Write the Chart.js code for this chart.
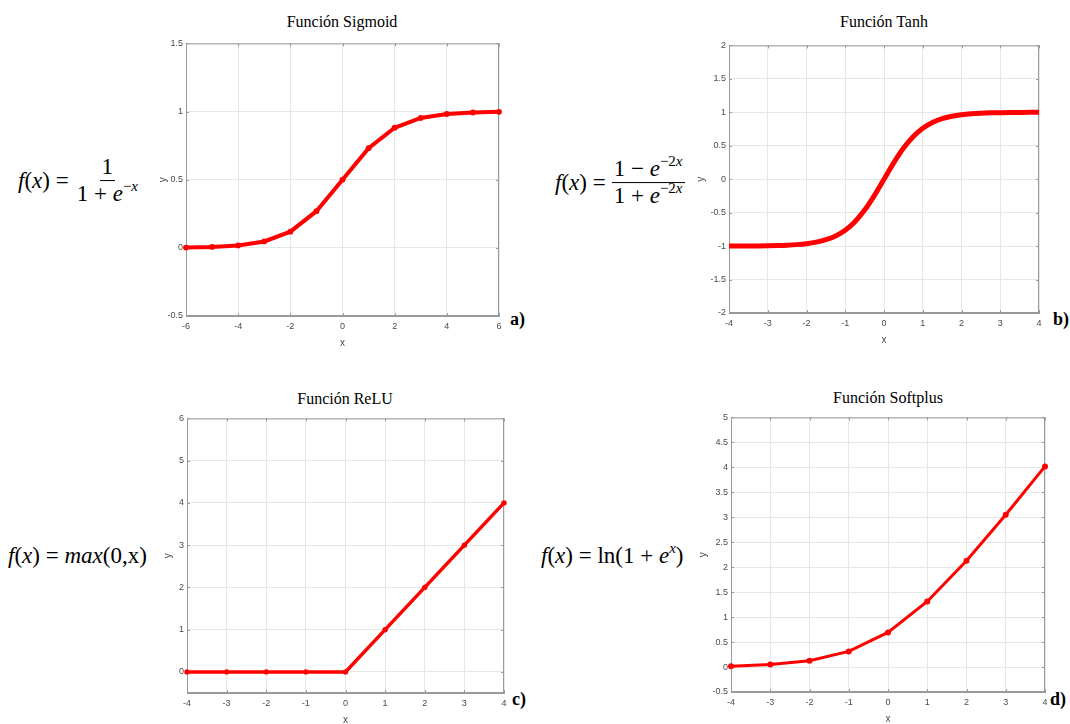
<!DOCTYPE html>
<html>
<head>
<meta charset="utf-8">
<script src="https://cdn.jsdelivr.net/npm/chart.js@4.4.0/dist/chart.umd.min.js"></script>
<style>
body{margin:0;width:1070px;height:724px;overflow:hidden;background:#fff;position:relative;font-family:'Liberation Serif',serif;color:#000}
canvas{position:absolute}
.ttl{position:absolute;font-size:16px;transform:translate(-50%,-50%);white-space:nowrap}
.tag{position:absolute;font-weight:bold;font-size:18px;transform:translateY(-50%)}
.fx{position:absolute;font-size:23px;white-space:nowrap;transform:translateY(-50%);display:flex;align-items:center}
.fx i{font-style:italic}
.frac{display:inline-flex;flex-direction:column;align-items:center;margin-left:6px}
.frac span{padding:0 2px;line-height:1.15}
.frac .num{border-bottom:1.3px solid #000}
sup{font-size:15px;line-height:0;vertical-align:10px}
</style>
</head>
<body>
<div class="fx" style="left:18px;top:181px"><span><i>f</i>(<i>x</i>) =</span><span class="frac"><span class="num">1</span><span>1 + <i>e</i><sup>−<i>x</i></sup></span></span></div>
<div class="fx" style="left:555px;top:183px"><span><i>f</i>(<i>x</i>) =</span><span class="frac"><span class="num">1 − <i>e</i><sup>−2<i>x</i></sup></span><span>1 + <i>e</i><sup>−2<i>x</i></sup></span></span></div>
<div class="fx" style="left:8px;top:556px"><span><i>f</i>(<i>x</i>) = <i>max</i>(0,x)</span></div>
<div class="fx" style="left:541px;top:556px"><span><i>f</i>(<i>x</i>) = ln(1 + <i>e</i><sup><i>x</i></sup>)</span></div>

<div class="ttl" style="left:342px;top:22px">Función Sigmoid</div>
<div class="ttl" style="left:884px;top:22px">Función Tanh</div>
<div class="ttl" style="left:345px;top:399px">Función ReLU</div>
<div class="ttl" style="left:888px;top:398px">Función Softplus</div>

<div class="tag" style="left:510px;top:319px">a)</div>
<div class="tag" style="left:1053px;top:319px">b)</div>
<div class="tag" style="left:512px;top:699px">c)</div>
<div class="tag" style="left:1050px;top:699px">d)</div>

<canvas id="cA"></canvas>
<canvas id="cB"></canvas>
<canvas id="cC"></canvas>
<canvas id="cD"></canvas>

<script>
// values
const sigmoidX = [-6, -5, -4, -3, -2, -1, 0, 1, 2, 3, 4, 5, 6];
const sigmoidY = [0.002, 0.007, 0.018, 0.047, 0.119, 0.269, 0.5, 0.731, 0.881, 0.953, 0.982, 0.993, 0.998];
const sigmoidXTicks = [-6, -4, -2, 0, 2, 4, 6];
const sigmoidYTicks = [-0.5, 0, 0.5, 1, 1.5];

const tanhX = [-4, -3.75, -3.5, -3.25, -3, -2.75, -2.5, -2.25, -2, -1.75, -1.5, -1.25, -1, -0.75, -0.5, -0.25, 0,
  0.25, 0.5, 0.75, 1, 1.25, 1.5, 1.75, 2, 2.25, 2.5, 2.75, 3, 3.25, 3.5, 3.75, 4];
const tanhY = [-0.999, -0.999, -0.998, -0.997, -0.995, -0.992, -0.987, -0.978, -0.964, -0.941, -0.905, -0.848, -0.762, -0.635, -0.462, -0.245, 0,
  0.245, 0.462, 0.635, 0.762, 0.848, 0.905, 0.941, 0.964, 0.978, 0.987, 0.992, 0.995, 0.997, 0.998, 0.999, 0.999];
const tanhXTicks = [-4, -3, -2, -1, 0, 1, 2, 3, 4];
const tanhYTicks = [-2, -1.5, -1, -0.5, 0, 0.5, 1, 1.5, 2];

const reluX = [-4, -3, -2, -1, 0, 1, 2, 3, 4];
const reluY = [0, 0, 0, 0, 0, 1, 2, 3, 4];
const reluXTicks = [-4, -3, -2, -1, 0, 1, 2, 3, 4];
const reluYTicks = [0, 1, 2, 3, 4, 5, 6];

const softplusX = [-4, -3, -2, -1, 0, 1, 2, 3, 4];
const softplusY = [0.018, 0.049, 0.127, 0.313, 0.693, 1.313, 2.127, 3.049, 4.018];
const softplusXTicks = [-4, -3, -2, -1, 0, 1, 2, 3, 4];
const softplusYTicks = [-0.5, 0, 0.5, 1, 1.5, 2, 2.5, 3, 3.5, 4, 4.5, 5];

const tickFont = {family: "'Liberation Sans', Arial, sans-serif", size: 9};
const tickColor = '#4a4a4a';
const frameColor = '#9a9a9a';

// box around the plot area + inward tick marks, like the original figure
const framePlugin = {
  id: 'frame',
  beforeDatasetsDraw(chart) {
    const {ctx, chartArea: a, scales} = chart;
    ctx.save();
    ctx.strokeStyle = frameColor;
    ctx.lineWidth = 1;
    ctx.strokeRect(a.left + 0.5, a.top + 0.5, a.right - a.left - 1, a.bottom - a.top - 1);
    ctx.beginPath();
    scales.x.ticks.forEach(t => {
      const px = Math.round(scales.x.getPixelForValue(t.value)) + 0.5;
      ctx.moveTo(px, a.bottom); ctx.lineTo(px, a.bottom - 3);
      ctx.moveTo(px, a.top); ctx.lineTo(px, a.top + 3);
    });
    scales.y.ticks.forEach(t => {
      const py = Math.round(scales.y.getPixelForValue(t.value)) + 0.5;
      ctx.moveTo(a.left, py); ctx.lineTo(a.left + 3, py);
      ctx.moveTo(a.right, py); ctx.lineTo(a.right - 3, py);
    });
    ctx.stroke();
    ctx.restore();
  }
};

function panel(id, box, yTitleX, xs, ys, xTicks, yTicks, yMin, yMax, look) {
  const cv = document.getElementById(id);
  const left = box.l - 46, top = box.t - 6;
  cv.style.left = left + 'px';
  cv.style.top = top + 'px';
  cv.width = box.r - left + 12;
  cv.height = box.b - top + 34;
  const padL = yTitleX - left - 6;

  new Chart(cv, {
    type: 'line',
    data: {
      datasets: [{
        data: xs.map((x, i) => ({x: x, y: ys[i]})),
        borderColor: '#ff0000',
        backgroundColor: '#ff0000',
        borderWidth: look.width,
        pointRadius: look.point,
        pointHoverRadius: look.point,
        pointBorderWidth: 0,
        cubicInterpolationMode: look.smooth ? 'monotone' : 'default',
        tension: 0,
        clip: 6
      }]
    },
    options: {
      responsive: false,
      animation: false,
      layout: {padding: {left: padL, top: 6, right: 12, bottom: 1}},
      plugins: {legend: {display: false}, tooltip: {enabled: false}},
      scales: {
        x: {
          type: 'linear',
          min: xTicks[0],
          max: xTicks[xTicks.length - 1],
          afterBuildTicks: s => { s.ticks = xTicks.map(v => ({value: v})); },
          afterFit: s => { s.height = 33; },
          ticks: {font: tickFont, color: tickColor, padding: 5, maxRotation: 0, autoSkip: false, callback: v => String(v)},
          grid: {color: '#e6e6e6', drawTicks: false},
          border: {color: frameColor},
          title: {display: true, text: 'x', font: {family: "'Liberation Sans', Arial, sans-serif", size: 10}, color: tickColor, padding: 0}
        },
        y: {
          min: yMin,
          max: yMax,
          afterBuildTicks: s => { s.ticks = yTicks.map(v => ({value: v})); },
          afterFit: s => { s.width = 46 - padL; },
          ticks: {font: tickFont, color: tickColor, padding: 3, autoSkip: false, callback: v => String(v)},
          grid: {color: '#e6e6e6', drawTicks: false},
          border: {color: frameColor},
          title: {display: true, text: 'y', font: {family: "'Liberation Sans', Arial, sans-serif", size: 10}, color: tickColor, padding: 0}
        }
      }
    },
    plugins: [framePlugin]
  });
}

panel('cA', {l: 186, t: 41, r: 499, b: 316}, 163, sigmoidX, sigmoidY, sigmoidXTicks, sigmoidYTicks, -0.5, 1.5, {width: 4, point: 2.9});
panel('cB', {l: 729, t: 43, r: 1039, b: 313}, 701, tanhX, tanhY, tanhXTicks, tanhYTicks, -2, 2, {width: 5, point: 0, smooth: true});
panel('cC', {l: 187, t: 416, r: 504, b: 693}, 168, reluX, reluY, reluXTicks, reluYTicks, -0.5, 6, {width: 3.5, point: 2.7});
panel('cD', {l: 731, t: 415, r: 1045, b: 692}, 703, softplusX, softplusY, softplusXTicks, softplusYTicks, -0.5, 5, {width: 3, point: 3});
</script>
</body>
</html>
